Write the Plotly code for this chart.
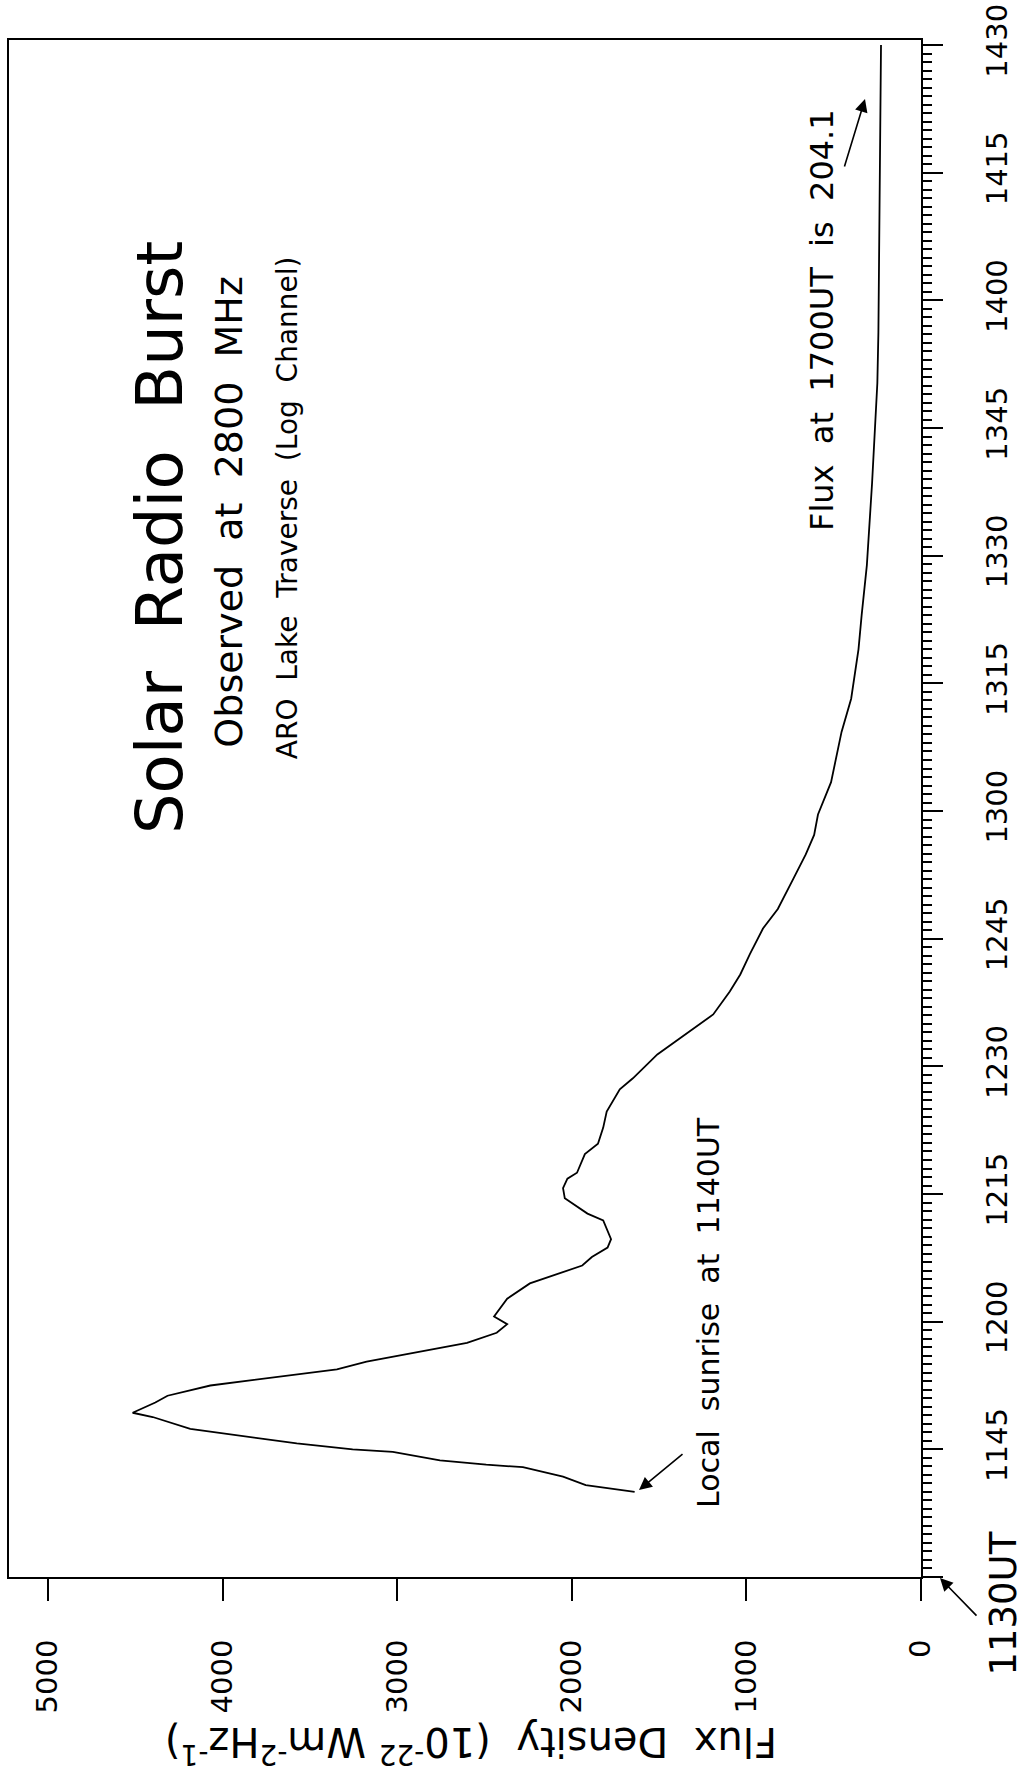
import plotly.graph_objects as go

# Solar radio burst at 2800 MHz, log channel, ARO Lake Traverse.
# Time is stored as minutes after 11:30 UT, flux in 10^-22 W m^-2 Hz^-1.
minutes_after_1130 = [
    10.0, 10.8, 11.8, 12.9, 13.2, 13.7, 14.7, 15.0, 15.7, 17.4, 18.8, 19.3,
    20.5, 21.3, 22.5, 24.4, 25.3, 27.5, 28.7, 29.7, 30.6, 32.7, 34.5, 36.6,
    37.6, 38.7, 39.7, 41.9, 42.7, 44.5, 45.7, 46.8, 47.5, 49.7, 50.9, 52.8,
    54.7, 57.3, 58.6, 61.4, 66.1, 68.8, 70.8, 73.2, 76.2, 78.5, 82.1, 84.9,
    87.2, 89.6, 93.4, 99.3, 103.2, 109.0, 113.0, 118.9, 128.6, 136.5, 140.3,
    146.2, 161.4, 180.0,
]
flux_density = [
    1640, 1920, 2050, 2280, 2490, 2755, 3025, 3255, 3575, 4185, 4400, 4515,
    4385, 4315, 4070, 3345, 3175, 2600, 2430, 2370, 2445, 2370, 2240, 1940,
    1885, 1795, 1775, 1820, 1910, 2040, 2050, 2025, 1970, 1925, 1850, 1820,
    1800, 1725, 1650, 1510, 1190, 1095, 1035, 980, 905, 820, 730, 660,
    612, 590, 515, 455, 400, 358, 340, 310, 280, 262, 250,
    244, 236, 229,
]

flux_ticks = [0, 1000, 2000, 3000, 4000, 5000]
time_tick_minutes = [0, 15, 30, 45, 60, 75, 90, 105, 120, 135, 150, 165, 180]
time_tick_labels = ["", "1145", "1200", "1215", "1230", "1245", "1300",
                    "1315", "1330", "1345", "1400", "1415", "1430"]

FONT = "DejaVu Sans"
INK = "black"

fig = go.Figure()
fig.add_trace(go.Scatter(
    x=flux_density, y=minutes_after_1130, mode="lines",
    line=dict(color=INK, width=1.8), showlegend=False, hoverinfo="skip",
))

fig.update_layout(
    width=1029, height=1774,
    margin=dict(l=9, r=108, t=40, b=197, autoexpand=False),
    paper_bgcolor="white", plot_bgcolor="white",
    font=dict(family=FONT, color=INK, size=29),
    showlegend=False,
)

fig.update_xaxes(
    range=[5223, 0], tickvals=flux_ticks, ticktext=[str(v) for v in flux_ticks],
    tickangle=-90, ticks="outside", ticklen=22, tickwidth=2, tickcolor=INK,
    ticklabelstandoff=27,
    showline=True, linewidth=2, linecolor=INK, mirror=True,
    showgrid=False, zeroline=False, tickfont=dict(size=29, family=FONT),
)
fig.update_yaxes(
    side="right", range=[0, 180.6],
    tickvals=time_tick_minutes, ticktext=time_tick_labels,
    tickangle=-90, ticks="outside", ticklen=20, tickwidth=2, tickcolor=INK,
    ticklabelstandoff=29,
    minor=dict(dtick=1, ticks="outside", ticklen=9, tickwidth=1.5, tickcolor=INK),
    showline=True, linewidth=2, linecolor=INK, mirror=True,
    showgrid=False, zeroline=False, tickfont=dict(size=29, family=FONT),
)

def label(text, x, y, size, angle=-90):
    fig.add_annotation(text=text, x=x, y=y, xref="paper", yref="paper",
                       showarrow=False, textangle=angle,
                       font=dict(size=size, family=FONT, color=INK),
                       xanchor="center", yanchor="middle")

def pointer(x, y, ax, ay):
    fig.add_annotation(text="", x=x, y=y, xref="paper", yref="paper",
                       ax=ax, ay=ay, showarrow=True, arrowhead=2,
                       arrowsize=1.6, arrowwidth=1.6, arrowcolor=INK)

# Titles, reading bottom to top
label("Solar  Radio  Burst", 0.1656, 0.6766, 64)
label("Observed  at  2800  MHz", 0.241, 0.693, 38)
label("ARO  Lake  Traverse  (Log  Channel)", 0.305, 0.6955, 28)

# Notes on the curve
label("Local  sunrise  at  1140UT", 0.7664, 0.1724, 30)
pointer(0.6908, 0.0566, 45, -37)
label("Flux  at  1700UT  is  204.1", 0.8914, 0.8178, 32)
pointer(0.9386, 0.9616, -21, 69)

# Start time of the time axis
label("1130UT", 1.0905, -0.0176, 37)
pointer(1.0208, -0.0007, 38, 39)

# Flux axis title, upside down
label("Flux  Density  (10<sup>-22</sup> Wm<sup>-2</sup>Hz<sup>-1</sup>)",
      0.506, -0.1093, 40, angle=180)

fig.write_html("out.html")
